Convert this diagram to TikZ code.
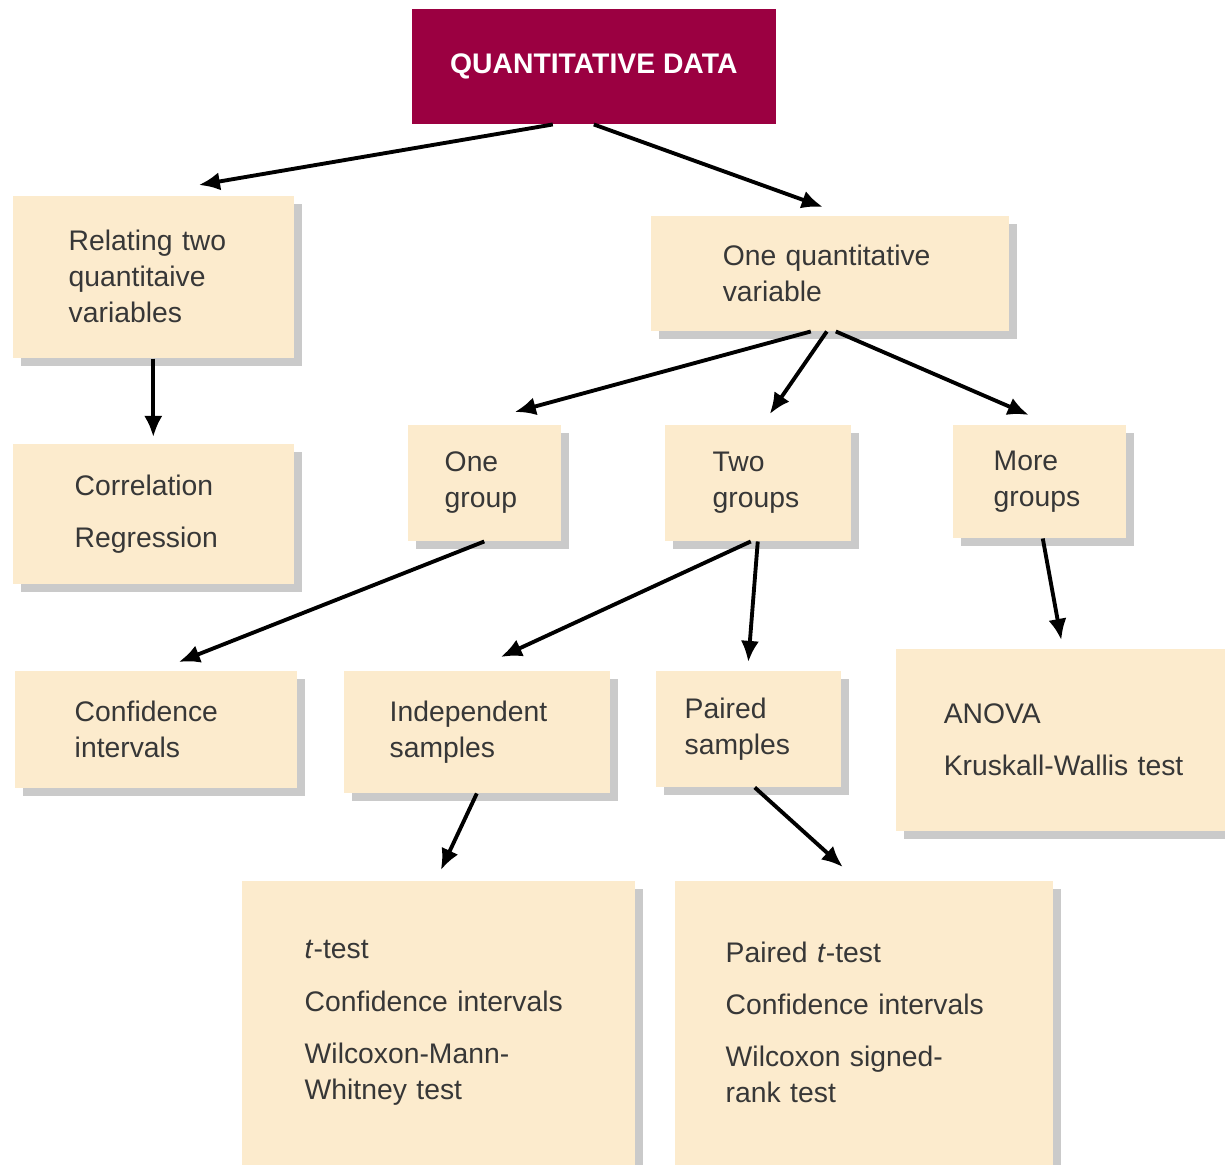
\documentclass[tikz,border=0pt]{standalone}
\usepackage{fontspec}
\setmainfont{Liberation Sans}
\usepackage{tikz}
\usetikzlibrary{arrows.meta,shadows}
\definecolor{quantred}{RGB}{155,0,65}
\definecolor{boxtan}{RGB}{252,235,205}
\definecolor{boxtext}{RGB}{55,55,55}

\begin{document}
\begin{tikzpicture}[x=0.01cm,y=-0.01cm,
  box/.style={fill=boxtan,anchor=north west,align=left,inner ysep=0pt,text=boxtext,
    font=\fontsize{8.05}{10.24}\selectfont,
    drop shadow={shadow xshift=0.08cm,shadow yshift=-0.08cm,opacity=0.28,fill=black!75}},
  arr/.style={-{Latex[length=6pt,width=5.2pt]},line width=1.1pt}]
\useasboundingbox (0,0) rectangle (1225,1164);

\node[fill=quantred,text=white,anchor=north west,minimum width=3.64cm,minimum height=1.15cm,
  font=\bfseries\fontsize{8.05}{10}\selectfont] (qd) at (411,8) {QUANTITATIVE DATA};

\node[box,text width=1.69cm,inner xsep=0.56cm,minimum height=1.62cm] (rel) at (12,195) {Relating two\\quantitaive\\variables};
\node[box,text width=2.14cm,inner xsep=0.72cm,minimum height=1.15cm] (oqv) at (650,215) {One quantitative\\variable};
\node[box,text width=1.57cm,inner xsep=0.62cm,minimum height=1.40cm] (corr) at (12,443) {Correlation\\[0.16cm]Regression};

\node[box,text width=0.79cm,inner xsep=0.37cm,minimum height=1.16cm] (og) at (407,424) {One\\group};
\node[box,text width=0.90cm,inner xsep=0.48cm,minimum height=1.16cm] (tg) at (664,424) {Two\\groups};
\node[box,text width=0.91cm,inner xsep=0.41cm,minimum height=1.13cm] (mg) at (952,424) {More\\groups};

\node[box,text width=1.62cm,inner xsep=0.60cm,minimum height=1.17cm] (ci) at (14,670) {Confidence\\intervals};
\node[box,text width=1.74cm,inner xsep=0.46cm,minimum height=1.22cm] (ind) at (343,670) {Independent\\samples};
\node[box,text width=1.27cm,inner xsep=0.29cm,minimum height=1.16cm] (pair) at (655,670) {Paired\\samples};
\node[box,text width=2.54cm,inner xsep=0.48cm,minimum height=1.82cm] (anova) at (895,648) {ANOVA\\[0.16cm]Kruskall-Wallis test};

\node[box,text width=2.67cm,inner xsep=0.63cm,minimum height=2.84cm] (tt) at (241,880) {\textit{t}-test\\[0.16cm]Confidence intervals\\[0.16cm]Wilcoxon-Mann-\\Whitney test};
\node[box,text width=2.76cm,inner xsep=0.51cm,minimum height=2.84cm] (pt) at (674,880) {Paired \textit{t}-test\\[0.16cm]Confidence intervals\\[0.16cm]Wilcoxon signed-\\rank test};

\draw[arr] ([xshift=-0.41cm]qd.south) -- ([xshift=0.455cm,yshift=0.10cm]rel.north);
\draw[arr] (qd.south) -- ([xshift=-0.07cm,yshift=0.08cm]oqv.north);
\draw[arr] (rel.south) -- ([yshift=0.06cm]corr.north);

\draw[arr] ([xshift=-0.19cm]oqv.south) -- ([xshift=0.305cm,yshift=0.12cm]og.north);
\draw[arr] ([xshift=-0.03cm]oqv.south) -- ([xshift=0.12cm,yshift=0.10cm]tg.north);
\draw[arr] ([xshift=0.06cm]oqv.south) -- ([xshift=-0.105cm,yshift=0.09cm]mg.north);

\draw[arr] (og.south) -- ([xshift=0.23cm,yshift=0.08cm]ci.north);
\draw[arr] ([xshift=-0.07cm]tg.south) -- ([xshift=0.24cm,yshift=0.13cm]ind.north);
\draw[arr] (tg.south) -- ([yshift=0.08cm]pair.north);
\draw[arr] ([xshift=0.035cm]mg.south) -- ([xshift=-0.095cm,yshift=0.08cm]anova.north);

\draw[arr] (ind.south) -- ([xshift=0.025cm,yshift=0.10cm]tt.north);
\draw[arr] ([xshift=0.065cm]pair.south) -- ([xshift=-0.21cm,yshift=0.13cm]pt.north);
\end{tikzpicture}
\end{document}
